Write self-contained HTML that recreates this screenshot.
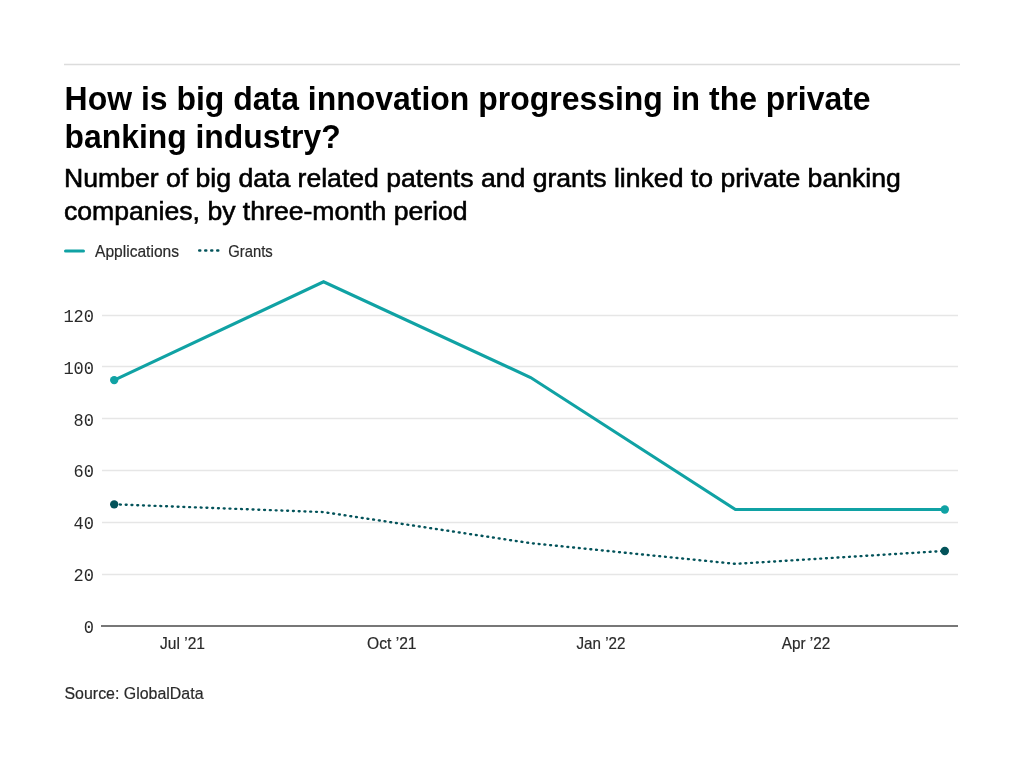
<!DOCTYPE html>
<html>
<head>
<meta charset="utf-8">
<style>
html,body{margin:0;padding:0;background:#fff;}
body{width:1024px;height:768px;overflow:hidden;}
svg{display:block;will-change:transform;}
text{font-family:"Liberation Sans",sans-serif;}
.mono text{font-family:"Liberation Mono",monospace;}
</style>
</head>
<body>
<svg width="1024" height="768" viewBox="0 0 1024 768">
  <rect x="0" y="0" width="1024" height="768" fill="#fff"/>
  <!-- top rule -->
  <rect x="64" y="63.75" width="896" height="1.5" fill="#dcdcdc"/>

  <!-- title -->
  <text x="64.6" y="110" font-size="33" font-weight="bold" fill="#000" textLength="806" lengthAdjust="spacingAndGlyphs">How is big data innovation progressing in the private</text>
  <text x="64.6" y="148" font-size="33" font-weight="bold" fill="#000" textLength="276" lengthAdjust="spacingAndGlyphs">banking industry?</text>

  <!-- subtitle -->
  <text x="64" y="187" font-size="26.6" fill="#000" stroke="#000" stroke-width="0.6">Number of big data related patents and grants linked to private banking</text>
  <text x="64" y="220" font-size="26.6" fill="#000" stroke="#000" stroke-width="0.6">companies, by three-month period</text>

  <!-- legend -->
  <line x1="65.5" y1="251" x2="83.5" y2="251" stroke="#10a2a4" stroke-width="3" stroke-linecap="round"/>
  <text x="95" y="257" font-size="17" fill="#2a2a2a" stroke="#2a2a2a" stroke-width="0.2" textLength="84" lengthAdjust="spacingAndGlyphs">Applications</text>
  <line x1="199.25" y1="250.5" x2="219" y2="250.5" stroke="#03535a" stroke-width="2.5" stroke-linecap="round" stroke-dasharray="1 5"/>
  <text x="228.2" y="257" font-size="17" fill="#2a2a2a" stroke="#2a2a2a" stroke-width="0.2" textLength="44.5" lengthAdjust="spacingAndGlyphs">Grants</text>

  <!-- gridlines -->
  <g fill="#e6e6e6">
    <rect x="102" y="314.75" width="856" height="1.5"/>
    <rect x="102" y="365.75" width="856" height="1.5"/>
    <rect x="102" y="417.75" width="856" height="1.5"/>
    <rect x="102" y="469.75" width="856" height="1.5"/>
    <rect x="102" y="521.75" width="856" height="1.5"/>
    <rect x="102" y="573.75" width="856" height="1.5"/>
  </g>
  <!-- axis -->
  <rect x="101" y="625" width="857" height="2" fill="#777"/>

  <!-- y labels -->
  <g class="mono" font-size="18.6" fill="#2a2a2a" text-anchor="end">
    <text x="94" y="321.9" textLength="30.60" lengthAdjust="spacingAndGlyphs">120</text>
    <text x="94" y="373.7" textLength="30.60" lengthAdjust="spacingAndGlyphs">100</text>
    <text x="94" y="425.5" textLength="20.40" lengthAdjust="spacingAndGlyphs">80</text>
    <text x="94" y="477.3" textLength="20.40" lengthAdjust="spacingAndGlyphs">60</text>
    <text x="94" y="529.1" textLength="20.40" lengthAdjust="spacingAndGlyphs">40</text>
    <text x="94" y="580.9" textLength="20.40" lengthAdjust="spacingAndGlyphs">20</text>
    <text x="94" y="632.7" textLength="10.20" lengthAdjust="spacingAndGlyphs">0</text>
  </g>

  <!-- x labels -->
  <g font-size="17" fill="#2a2a2a" stroke="#2a2a2a" stroke-width="0.2" text-anchor="middle" lengthAdjust="spacingAndGlyphs">
    <text x="182.5" y="649" textLength="45" lengthAdjust="spacingAndGlyphs">Jul ’21</text>
    <text x="391.8" y="649" textLength="49.5" lengthAdjust="spacingAndGlyphs">Oct ’21</text>
    <text x="601" y="649" textLength="49" lengthAdjust="spacingAndGlyphs">Jan ’22</text>
    <text x="806" y="649" textLength="48.5" lengthAdjust="spacingAndGlyphs">Apr ’22</text>
  </g>

  <!-- lines -->
  <path d="M114.20,504.35L323.56,512.11L530.64,543.17L735.44,563.88L944.80,550.94" fill="none" stroke="#03535a" stroke-width="2.4" stroke-linecap="round" stroke-linejoin="round" stroke-dasharray="0.9 4.87"/>
  <path d="M114.20,380.11L323.56,281.75L530.64,377.52L735.44,509.52L944.80,509.52" fill="none" stroke="#10a2a4" stroke-width="3.1" stroke-linejoin="miter"/>
  <circle cx="114.2" cy="380.11" r="4.2" fill="#10a2a4"/>
  <circle cx="944.8" cy="509.52" r="4.2" fill="#10a2a4"/>
  <circle cx="114.2" cy="504.35" r="4.2" fill="#03535a"/>
  <circle cx="944.8" cy="550.94" r="4.2" fill="#03535a"/>

  <!-- source -->
  <text x="64.5" y="699" font-size="17.4" fill="#2a2a2a" stroke="#2a2a2a" stroke-width="0.2" textLength="139" lengthAdjust="spacingAndGlyphs">Source: GlobalData</text>
</svg>
</body>
</html>
